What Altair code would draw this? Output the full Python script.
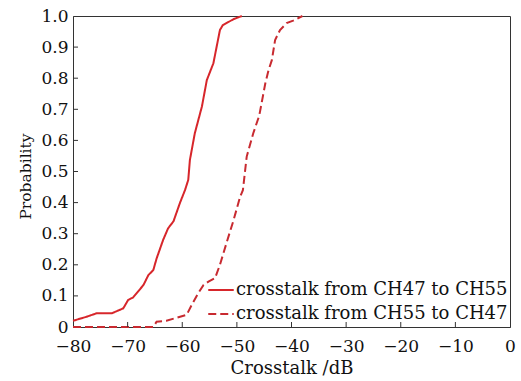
import altair as alt
import pandas as pd

series_names = ["crosstalk from CH47 to CH55", "crosstalk from CH55 to CH47"]

solid_x = [-80, -77.5, -75.7, -72.9, -70.8, -69.9, -69, -67.1, -66.2, -65.3, -64.7, -63.5,
           -62.6, -61.6, -60.4, -59.5, -58.9, -58.6, -57.7, -56.4, -55.5, -54.3, -53.1,
           -52.6, -50.6, -49.1]
solid_y = [0.02, 0.033, 0.044, 0.044, 0.06, 0.087, 0.095, 0.135, 0.167, 0.183, 0.22, 0.28,
           0.317, 0.34, 0.40, 0.44, 0.473, 0.537, 0.623, 0.709, 0.794, 0.848, 0.955,
           0.97, 0.99, 1.0]

dash_x = [-80, -65.3, -64.7, -62.9, -61, -59.2, -58.3, -57.1, -56.1, -55.2, -54, -53.1,
          -51.9, -50.6, -49.4, -48.9, -48.2, -47, -45.9, -44.8, -44.2, -43.6, -43, -42.1,
          -40.9, -39.7, -38]
dash_y = [0, 0, 0.017, 0.02, 0.03, 0.039, 0.07, 0.108, 0.135, 0.146, 0.157, 0.2,
          0.27, 0.344, 0.419, 0.44, 0.548, 0.623, 0.68, 0.783, 0.826, 0.858, 0.923, 0.955,
          0.977, 0.985, 1.0]

x_ticks = [-80, -70, -60, -50, -40, -30, -20, -10, 0]
y_ticks = [0, 0.1, 0.2, 0.3, 0.4, 0.5, 0.6, 0.7, 0.8, 0.9, 1.0]

rows = []
for i, (x, y) in enumerate(zip(solid_x, solid_y)):
    rows.append({"x": x, "y": y, "series": series_names[0], "order": i})
for i, (x, y) in enumerate(zip(dash_x, dash_y)):
    rows.append({"x": x, "y": y, "series": series_names[1], "order": i})
df = pd.DataFrame(rows)

W, H = 437, 311
FONT = "DejaVu Serif"

xscale = alt.Scale(domain=[-80, 0], nice=False)
yscale = alt.Scale(domain=[0, 1], nice=False)

xaxis = alt.Axis(title="Crosstalk /dB", values=x_ticks, ticks=False, grid=False,
                 domainColor="#333", labelPadding=11, titlePadding=5, titleFontSize=18,
                 labelOverlap=False, labelFlush=False)
yaxis = alt.Axis(title="Probability", values=y_ticks, ticks=False, grid=False,
                 domainColor="#333", labelPadding=5, titlePadding=7, titleFontSize=15.5,
                 titleY=160,
                 labelOverlap=False, labelFlush=False,
                 labelExpr="datum.value == 0 ? '0' : format(datum.value, '.1f')")

lines = alt.Chart(df).mark_line(strokeWidth=2).encode(
    x=alt.X("x:Q", scale=xscale, axis=xaxis, title="Crosstalk /dB"),
    y=alt.Y("y:Q", scale=yscale, axis=yaxis, title="Probability"),
    color=alt.Color("series:N", scale=alt.Scale(domain=series_names, range=["#d7262b", "#c82a30"]),
                    legend=alt.Legend(title=None, orient="none", legendX=134, legendY=260,
                                      symbolType="stroke", symbolSize=650, symbolStrokeWidth=2,
                                      labelFontSize=18, labelFont=FONT, labelColor="#111",
                                      labelLimit=0, rowPadding=1, labelOffset=1, padding=0)),
    strokeDash=alt.StrokeDash("series:N",
                              scale=alt.Scale(domain=series_names, range=[[1, 0], [8, 4]]),
                              legend=None),
    order="order:Q",
)

xt = pd.DataFrame({"t": x_ticks[1:-1]})
yt = pd.DataFrame({"t": y_ticks[1:-1]})
xticks = alt.Chart(xt).mark_rule(color="#333", strokeWidth=1).encode(
    x=alt.X("t:Q", scale=xscale, axis=xaxis, title="Crosstalk /dB"),
    y=alt.value(H), y2=alt.value(H - 5))
yticks = alt.Chart(yt).mark_rule(color="#333", strokeWidth=1).encode(
    y=alt.Y("t:Q", scale=yscale, axis=yaxis, title="Probability"),
    x=alt.value(0), x2=alt.value(5))

chart = alt.layer(lines, xticks, yticks).properties(
    width=W, height=H,
    background="white",
    autosize=alt.AutoSizeParams(type="none"),
    padding={"left": 73, "top": 16, "right": 11, "bottom": 54},
).configure_view(stroke="#333", strokeWidth=1).configure_axis(
    labelFont=FONT, titleFont=FONT, labelFontSize=17,
    labelColor="#111", titleColor="#111", titleFontWeight="normal",
)

chart.save("out.html", embed_options={"renderer": "svg", "actions": False})
